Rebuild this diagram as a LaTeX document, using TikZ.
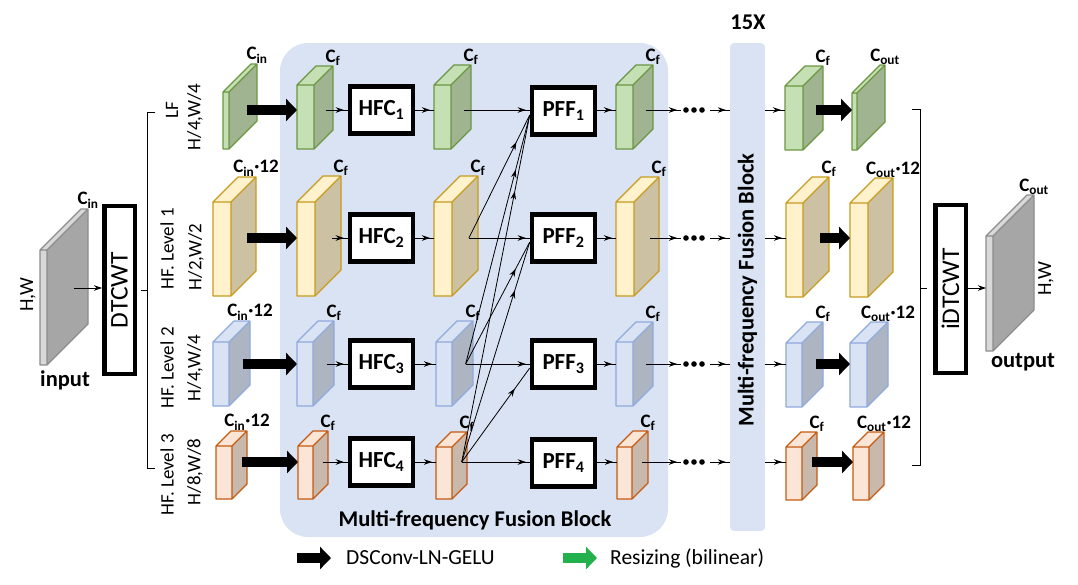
\documentclass[tikz,border=0pt]{standalone}
\usepackage{fontspec}
\setmainfont{Carlito}
\usetikzlibrary{arrows.meta,decorations.markings}
\definecolor{bg}{RGB}{218,227,243}
\definecolor{gfront}{RGB}{197,224,180}
\definecolor{gside}{RGB}{160,180,145}
\definecolor{gline}{RGB}{106,150,66}
\definecolor{yfront}{RGB}{255,242,204}
\definecolor{yside}{RGB}{204,194,163}
\definecolor{yline}{RGB}{200,155,30}
\definecolor{bfront}{RGB}{218,227,243}
\definecolor{bside}{RGB}{173,181,195}
\definecolor{bline}{RGB}{143,170,220}
\definecolor{ofront}{RGB}{251,229,214}
\definecolor{oside}{RGB}{201,184,172}
\definecolor{oline}{RGB}{197,90,17}
\definecolor{kfront}{RGB}{217,217,217}
\definecolor{kside}{RGB}{166,166,166}
\definecolor{kline}{RGB}{140,140,140}
\definecolor{legreen}{RGB}{34,177,76}
\tikzset{
  cubeline/.style={line width=1.3pt,line join=round},
  lab/.style={font=\fontsize{19}{20}\selectfont\bfseries,inner sep=0.5pt},
  opbox/.style={draw,line width=4.5pt,fill=white,minimum width=63pt,minimum height=47pt,inner sep=0pt,font=\fontsize{23}{25}\selectfont\bfseries},
  tallbox/.style={draw,line width=4.5pt,fill=white,rotate=90,minimum width=168pt,minimum height=30.5pt,inner sep=0pt,font=\fontsize{25.5}{27}\selectfont},
  rowlab/.style={rotate=90,font=\fontsize{19}{21}\selectfont,inner sep=0pt},
  bigb/.style={font=\fontsize{22.5}{24}\selectfont\bfseries,inner sep=0pt},
  leg/.style={font=\fontsize{21.5}{24}\selectfont,inner sep=0pt},
  conn/.style={line width=0.8pt},
  harr/.style={decoration={markings,mark=at position -4pt with {\arrow{Stealth[length=8pt,width=5.5pt]}}},postaction={decorate}},
  endarr/.style={-{Stealth[length=8pt,width=5.5pt]}},
  darr/.style={decoration={markings,mark=at position 0.78 with {\arrow{Stealth[length=8pt,width=5.5pt]}}},postaction={decorate}},
  fatarr/.style={line width=10pt,-{Triangle[length=11pt,width=22pt]}},
}
% #1 name, #2 x1, #3 x2, #4 ytop, #5 ybot, #6 depth, #7 colour prefix, #8 row y, #9 label
\newcommand\mycube[9]{%
  \fill[#7front] (#2,#4) rectangle (#3,#5);
  \fill[#7side] (#3,#4) -- (#3+#6,#4-#6) -- (#3+#6,#5-#6) -- (#3,#5) -- cycle;
  \fill[#7front] (#2,#4) -- (#2+#6,#4-#6) -- (#3+#6,#4-#6) -- (#3,#4) -- cycle;
  \draw[#7line,cubeline] (#2,#4) rectangle (#3,#5) (#3,#5) -- (#3+#6,#5-#6) -- (#3+#6,#4-#6) -- (#2+#6,#4-#6) -- (#2,#4) (#3,#4) -- (#3+#6,#4-#6);
  \coordinate (#1-l) at (#2,#8);
  \coordinate (#1-c) at (#3+0.65*#6,#8);
  \node[lab,anchor=south] (#1-t) at (#3+#6,#4-#6) {#9};
}
\begin{document}
\begin{tikzpicture}[x=1pt,y=-1pt]
\useasboundingbox (0,0) rectangle (1078,584);
% backgrounds
\node[fill=bg,rounded corners=28pt,minimum width=388pt,minimum height=494pt,inner sep=0pt] (mffb) at (474,290) {};
\node[bigb] (mffbt) at (475,520) {Multi-frequency Fusion Block};
\node[fill=bg,rounded corners=4pt,minimum width=35pt,minimum height=488pt,inner sep=0pt] (bar) at (747.5,287) {};
\node[bigb,rotate=90] (bart) at (747.5,290) {Multi-frequency Fusion Block};
\node[bigb] (x15) at (748,22) {15X};

% input / output
\mycube{in}{40}{47}{250}{365}{41}{k}{288}{C\textsubscript{in}}
\node[rowlab,font=\fontsize{20}{22}\selectfont] (inhw) at (28,295) {H,W};
\node[bigb] (inlab) at (65,380) {input};
\node[tallbox] (dt) at (119.5,290) {DTCWT};
\draw[conn,endarr] (in-c) -- (in-c -| dt.north);

\node[tallbox] (idt) at (950.5,289) {iDTCWT};
\mycube{out}{986}{993}{236}{351}{41}{k}{288}{C\textsubscript{out}}
\node[rowlab,font=\fontsize{20}{22}\selectfont] (outhw) at (1046,279) {H,W};
\node[bigb] (outlab) at (1023,362) {output};
\draw[conn,endarr] (idt.south |- out-l) -- (out-l);

% brackets
\draw[conn] (155,112) -- (147,112) -- (147,468) -- (155,468);
\draw[conn] (147,290) -- (141,290);
\draw[conn] (912,109) -- (920,109) -- (920,465) -- (912,465);
\draw[conn] (920,288) -- (927,288);

% row labels
\node[rowlab] (r1a) at (172,110) {LF};
\node[rowlab] (r1b) at (195,117) {H/4,W/4};
\node[rowlab] (r2a) at (167,249) {HF. Level 1};
\node[rowlab] (r2b) at (196,257) {H/2,W/2};
\node[rowlab] (r3a) at (167,368) {HF. Level 2};
\node[rowlab] (r3b) at (195,368) {H/4,W/4};
\node[rowlab] (r4a) at (167,475) {HF. Level 3};
\node[rowlab] (r4b) at (195,472) {H/8,W/8};

% row 1
\mycube{A1}{223}{229}{92}{149}{28}{g}{110}{C\textsubscript{in}}
\mycube{B1}{297}{314}{85}{149}{19}{g}{110}{C\textsubscript{f}}
\mycube{C1}{434}{451}{85}{149}{20}{g}{110}{C\textsubscript{f}}
\mycube{D1}{616}{633}{85}{149}{20}{g}{110}{C\textsubscript{f}}
\mycube{E1}{785}{803}{86}{150}{20}{g}{110}{C\textsubscript{f}}
\mycube{F1}{852}{857}{93}{150}{28}{g}{110}{C\textsubscript{out}}
% row 2
\mycube{A2}{213}{231}{202}{296}{25}{y}{238}{C\textsubscript{in}·12}
\mycube{B2}{297}{315}{202}{296}{26}{y}{238}{C\textsubscript{f}}
\mycube{C2}{434}{452}{202}{296}{26}{y}{238}{C\textsubscript{f}}
\mycube{D2}{616}{634}{202}{296}{25}{y}{238}{C\textsubscript{f}}
\mycube{E2}{786}{803}{203}{297}{26}{y}{238}{C\textsubscript{f}}
\mycube{F2}{850}{868}{203}{297}{25}{y}{238}{C\textsubscript{out}·12}
% row 3
\mycube{A3}{213}{229}{342}{406}{21}{b}{364}{C\textsubscript{in}·12}
\mycube{B3}{297}{313}{342}{406}{21}{b}{364}{C\textsubscript{f}}
\mycube{C3}{436}{452}{342}{406}{21}{b}{364}{C\textsubscript{f}}
\mycube{D3}{616}{633}{342}{406}{20}{b}{364}{C\textsubscript{f}}
\mycube{E3}{786}{802}{343}{407}{21}{b}{364}{C\textsubscript{f}}
\mycube{F3}{850}{867}{343}{407}{21}{b}{364}{C\textsubscript{out}·12}
% row 4
\mycube{A4}{216}{232}{446}{499}{15}{o}{462}{C\textsubscript{in}·12}
\mycube{B4}{298}{313}{446}{499}{15}{o}{462}{C\textsubscript{f}}
\mycube{C4}{436}{452}{447}{499}{15}{o}{462}{C\textsubscript{f}}
\mycube{D4}{617}{632}{447}{499}{16}{o}{462}{C\textsubscript{f}}
\mycube{E4}{786}{802}{447}{500}{15}{o}{462}{C\textsubscript{f}}
\mycube{F4}{853}{869}{447}{500}{15}{o}{462}{C\textsubscript{out}·12}

% operator boxes
\node[opbox] (H1) at (381.5,110) {HFC\textsubscript{1}};
\node[opbox] (H2) at (381.5,238) {HFC\textsubscript{2}};
\node[opbox] (H3) at (381.5,364) {HFC\textsubscript{3}};
\node[opbox] (H4) at (381.5,462) {HFC\textsubscript{4}};
\node[opbox] (P1) at (563.5,111) {PFF\textsubscript{1}};
\node[opbox] (P2) at (563.5,238) {PFF\textsubscript{2}};
\node[opbox] (P3) at (563.5,364) {PFF\textsubscript{3}};
\node[opbox] (P4) at (563.5,463) {PFF\textsubscript{4}};

% row connectors
\foreach \r/\y in {1/110,2/238,3/364,4/462}{
  \draw[fatarr] (A\r-c) -- (B\r-l);
  \draw[fatarr] (E\r-c) -- (F\r-l);
  \draw[conn,harr] (B\r-c) -- (H\r.west |- B\r-c);
  \draw[conn,harr] (H\r.east |- C\r-l) -- (C\r-l);
  \draw[conn,harr] (C\r-c) -- (P\r.west |- C\r-c);
  \draw[conn,harr] (P\r.east |- D\r-l) -- (D\r-l);
  \coordinate (dl\r) at (681,\y);
  \coordinate (dr\r) at (710,\y);
  \draw[conn,harr] (D\r-c) -- (dl\r);
  \foreach \dx in {686,694,702} \fill (\dx,\y) circle (2.8pt);
  \draw[conn,harr] (dr\r) -- (bar.west |- dr\r);
  \draw[conn,harr] (bar.east |- E\r-l) -- (E\r-l);
}

% cross-frequency connectors
\draw[conn,darr] (C2-c) -- ([yshift=-4pt]P1.west);
\draw[conn,darr] (C3-c) -- ([yshift=-4pt]P1.west);
\draw[conn,darr] (C4-c) -- ([yshift=-4pt]P1.west);
\draw[conn,darr] (C3-c) -- ([yshift=-4pt]P2.west);
\draw[conn,darr] (C4-c) -- ([yshift=-4pt]P2.west);
\draw[conn,darr] (C4-c) -- ([yshift=-4pt]P3.west);

% legend
\coordinate (l1a) at (297,558);
\coordinate (l1b) at (331,558);
\draw[fatarr] (l1a) -- (l1b);
\node[leg,anchor=west] (l1t) at (346,558) {DSConv-LN-GELU};
\coordinate (l2a) at (563,558);
\coordinate (l2b) at (597,558);
\draw[fatarr,legreen] (l2a) -- (l2b);
\node[leg,anchor=west] (l2t) at (610,558) {Resizing (bilinear)};
\end{tikzpicture}
\end{document}
